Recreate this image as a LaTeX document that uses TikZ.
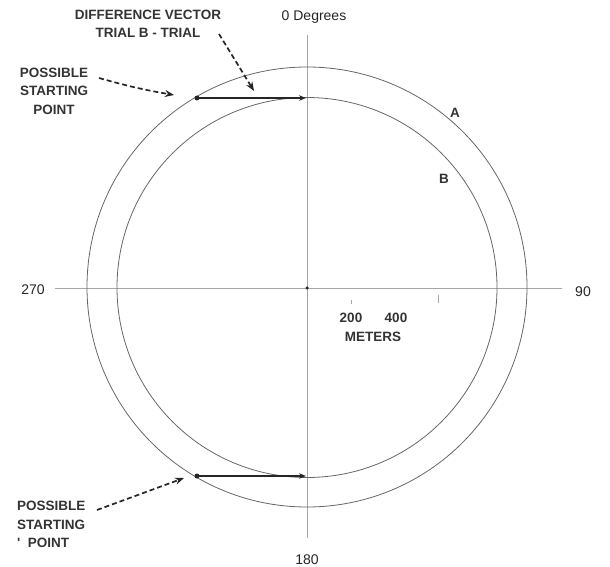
\documentclass[tikz,border=0pt]{standalone}
\usepackage{fontspec}
\setmainfont{Liberation Sans}
\usetikzlibrary{arrows.meta}
\begin{document}
\begin{tikzpicture}[x=1pt,y=-1pt,
  lbl/.style={font=\bfseries\fontsize{13.5}{18.5}\selectfont, text=black!80, align=center, inner sep=0pt},
  axlbl/.style={font=\fontsize{14}{16}\selectfont, text=black!85, inner sep=0pt},
  ring/.style={draw=black!60, line width=0.8pt},
  axis/.style={draw=black!35, line width=0.6pt},
  vec/.style={draw=black!85, line width=1.1pt, -{Stealth[length=7pt,width=5.5pt]}},
  pointer/.style={draw=black!85, line width=1.7pt, dash pattern=on 5pt off 3pt, -{Stealth[length=9pt,width=7pt]}},
  startdot/.style={circle, fill=black!85, inner sep=0pt, minimum size=5pt}]
\useasboundingbox (0,0) rectangle (610,567);
% centre and axes
\coordinate (c) at (307,288);
\coordinate (vtop) at (307,35);
\coordinate (vbot) at (307,538);
\coordinate (hl) at (55,288);
\coordinate (hr) at (562,288);
\draw[axis] (vtop) -- (vbot);
\draw[axis] (hl) -- (hr);
\node[circle, fill=black!85, inner sep=0pt, minimum size=3.5pt] (cdot) at (c) {};
% circles
\draw[ring] (307,287) circle (220);
\draw[ring] (307,287.5) circle (190);
% axis labels
\node[axlbl] (deg0) at (314,17) {0 Degrees};
\node[axlbl] (deg180) at (307,560) {180};
\node[axlbl] (deg90) at (583,292) {90};
\node[axlbl] (deg270) at (33,290) {270};
% circle labels
\node[lbl] (la) at (455,113) {A};
\node[lbl] (lb) at (444,179) {B};
% scale
\coordinate (t1a) at (351,300); \coordinate (t1b) at (351,304);
\coordinate (t2a) at (438,295); \coordinate (t2b) at (438,303);
\draw[axis] (t1a) -- (t1b);
\draw[axis] (t2a) -- (t2b);
\node[lbl] (s200) at (351,318) {200};
\node[lbl] (s400) at (396,318) {400};
\node[lbl] (smeters) at (373,337) {METERS};
% difference vectors
\node[startdot] (p1) at (197,98) {};
\coordinate (e1) at (306,98);
\draw[vec] (p1.center) -- (e1);
\node[startdot] (p2) at (197,476) {};
\coordinate (e2) at (306,476);
\draw[vec] (p2.center) -- (e2);
% text labels
\node[lbl] (diff) at (148,24) {DIFFERENCE VECTOR\\TRIAL B - TRIAL};
\node[lbl] (start1) at (54,91) {POSSIBLE\\STARTING\\POINT};
\node[lbl, align=left, anchor=north west] (start2) at (17,501) {POSSIBLE\\STARTING\\\textquotesingle\ \ POINT};
% pointers
\coordinate (d1) at (219,34);
\coordinate (d2) at (254,91);
\draw[pointer] (d1) -- (d2);
\coordinate (a1) at (99,78);
\coordinate (a2) at (174,95);
\draw[pointer] (a1) to[bend left=-3] (a2);
\coordinate (b1) at (97,510);
\coordinate (b2) at (184,478);
\draw[pointer] (b1) -- (b2);
\end{tikzpicture}
\end{document}
